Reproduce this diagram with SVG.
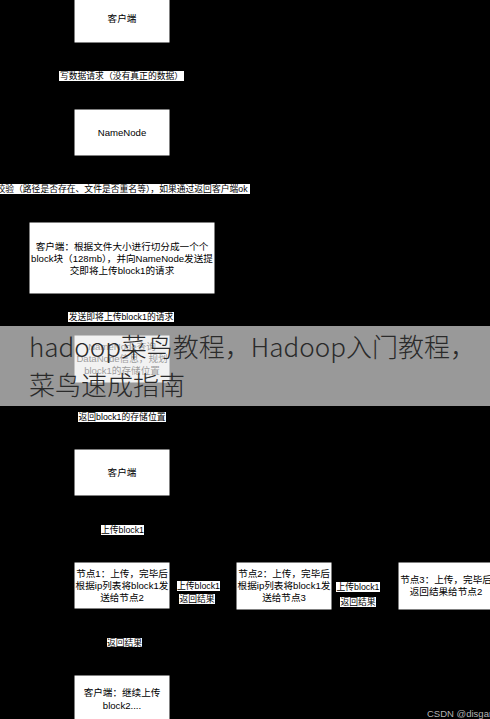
<svg xmlns="http://www.w3.org/2000/svg" width="490" height="719" viewBox="0 0 490 719">
  <defs>
    <marker id="arrow" viewBox="0 0 10 10" refX="9" refY="5" markerWidth="6" markerHeight="6" orient="auto">
      <path d="M0,0 L10,5 L0,10 z" fill="#000"/>
    </marker>
    <style>
      .box { fill: #ffffff; stroke: #000000; stroke-width: 1; }
      .nt { font-family: "Liberation Sans", "Noto Sans CJK SC", sans-serif; font-size: 9.6px; fill: #000; text-anchor: middle; }
      .lb { fill: #ffffff; }
      .lt { font-family: "Liberation Sans", "Noto Sans CJK SC", sans-serif; font-size: 8.8px; fill: #000; text-anchor: middle; }
      .edge { fill: none; stroke: #000000; stroke-width: 1; marker-end: url(#arrow); }
      .wm { font-family: "Noto Sans CJK SC", "Noto Sans", sans-serif; font-size: 26px; font-weight: 200; fill: #2a2a2a; }
    </style>
  </defs>
  <rect x="0" y="0" width="490" height="719" fill="#000000"/>

  <g id="connectors">
    <line class="edge" x1="122" y1="43" x2="122" y2="108"/>
    <line class="edge" x1="122" y1="156" x2="122" y2="221"/>
    <line class="edge" x1="122" y1="294" x2="122" y2="334"/>
    <line class="edge" x1="122" y1="383" x2="122" y2="448"/>
    <line class="edge" x1="122" y1="496" x2="122" y2="561"/>
    <line class="edge" x1="170" y1="580" x2="235" y2="580"/>
    <line class="edge" x1="236" y1="595" x2="171" y2="595"/>
    <line class="edge" x1="332" y1="580" x2="397" y2="580"/>
    <line class="edge" x1="398" y1="595" x2="333" y2="595"/>
    <line class="edge" x1="122" y1="609" x2="122" y2="674"/>
    <g id="edge-labels">
      <rect class="lb" x="59" y="71" width="125" height="10"/>
      <text class="lt" x="121.5" y="79.1">写数据请求（没有真正的数据）</text>
      <rect class="lb" x="-6" y="184" width="256" height="10"/>
      <text class="lt" x="122" y="192.1">校验（路径是否存在、文件是否重名等），如果通过返回客户端ok</text>
      <rect class="lb" x="68" y="312" width="106" height="10"/>
      <text class="lt" x="121" y="320.1">发送即将上传block1的请求</text>
      <rect class="lb" x="78" y="412" width="88" height="10"/>
      <text class="lt" x="122" y="420.1">返回block1的存储位置</text>
      <rect class="lb" x="101" y="525" width="43" height="10"/>
      <text class="lt" x="122.5" y="533.1">上传block1</text>
      <rect class="lb" x="177" y="581" width="43" height="10"/>
      <text class="lt" x="198.5" y="589.1">上传block1</text>
      <rect class="lb" x="179" y="594" width="36" height="10"/>
      <text class="lt" x="197" y="602.1">返回结果</text>
      <rect class="lb" x="336" y="582" width="44" height="10"/>
      <text class="lt" x="358" y="590.1">上传block1</text>
      <rect class="lb" x="340" y="597" width="36" height="10"/>
      <text class="lt" x="358" y="605.1">返回结果</text>
      <rect class="lb" x="107" y="638" width="35" height="9"/>
      <text class="lt" x="124.5" y="645.6">返回结果</text>
    </g>
  </g>

  <g id="client-1">
    <rect class="box" x="74" y="-4" width="96" height="47"/>
    <text class="nt" x="122" y="22.4">客户端</text>
  </g>
  <g id="namenode">
    <rect class="box" x="74" y="109" width="96" height="47"/>
    <text class="nt" x="122" y="135.9">NameNode</text>
  </g>
  <g id="client-split">
    <rect class="box" x="29" y="222" width="186" height="72"/>
    <text class="nt" x="122" y="249.9">客户端：根据文件大小进行切分成一个个</text>
    <text class="nt" x="122" y="261.9">block块（128mb），并向NameNode发送提</text>
    <text class="nt" x="122" y="273.9">交即将上传block1的请求</text>
  </g>
  <g id="namenode-query">
    <rect class="box" x="74" y="335" width="96" height="48"/>
    <text class="nt" x="122" y="350.4">NameNode查询</text>
    <text class="nt" x="122" y="362.4">DataNode信息，规划</text>
    <text class="nt" x="122" y="374.4">block1的存储位置</text>
  </g>
  <g id="client-2">
    <rect class="box" x="74" y="449" width="96" height="47"/>
    <text class="nt" x="122" y="475.9">客户端</text>
  </g>
  <g id="node-1">
    <rect class="box" x="74" y="562" width="96" height="47"/>
    <text class="nt" x="122" y="577.4">节点1：上传，完毕后</text>
    <text class="nt" x="122" y="589.4">根据ip列表将block1发</text>
    <text class="nt" x="122" y="601.4">送给节点2</text>
  </g>
  <g id="node-2">
    <rect class="box" x="236" y="562" width="96" height="48"/>
    <text class="nt" x="284" y="576.9">节点2：上传，完毕后</text>
    <text class="nt" x="284" y="588.9">根据ip列表将block1发</text>
    <text class="nt" x="284" y="600.9">送给节点3</text>
  </g>
  <g id="node-3">
    <rect class="box" x="398" y="562" width="96" height="48"/>
    <text class="nt" x="446" y="583.4">节点3：上传，完毕后</text>
    <text class="nt" x="446" y="595.4">返回结果给节点2</text>
  </g>
  <g id="client-3">
    <rect class="box" x="74" y="675" width="96" height="47"/>
    <text class="nt" x="122" y="696.4">客户端：继续上传</text>
    <text class="nt" x="122" y="709.4">block2....</text>
  </g>

  <g id="watermark">
    <rect x="0" y="326" width="490" height="80" fill="rgb(235,235,235)" fill-opacity="0.65"/>
    <text class="wm" x="29" y="357">hadoop菜鸟教程，Hadoop入门教程，</text>
    <text class="wm" x="29" y="395">菜鸟速成指南</text>
  </g>
  <text x="427" y="717" font-family="Liberation Sans, sans-serif" font-size="9.5px" fill="#b4b4b4">CSDN @disgare</text>
</svg>
